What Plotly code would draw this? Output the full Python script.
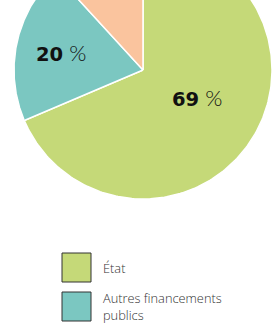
import numpy as np
import plotly.graph_objects as go

# ---- data ----
labels = ["État", "Autres financements publics", "Ressources propres"]
values = [68.6, 19.6, 11.8]
value_text = ["69", "20", "12"]
colors = ["#C5D978", "#7BC7C1", "#FAC49E"]

# ---- geometry of the (cropped) pie, in unit-circle data space ----
W, H = 273, 328
CX_PX, CY_PX, R_PX = 143, 70, 129
label_r = [0.47, 0.65, 0.6]
label_nudge = [-7.0, 0.0, 0.0]

fig = go.Figure()
total = sum(values)
start = 0.0  # clockwise angle from 12 o'clock, in degrees
for i, (lab, v, col) in enumerate(zip(labels, values, colors)):
    span = 360.0 * v / total
    a = np.radians(np.linspace(start, start + span, 240))
    xs = np.concatenate([[0.0], np.sin(a), [0.0]])
    ys = np.concatenate([[0.0], np.cos(a), [0.0]])
    fig.add_trace(go.Scatter(x=xs, y=ys, mode="lines", fill="toself",
                             fillcolor=col, line=dict(color="white", width=1.5),
                             name=lab, showlegend=False, hoverinfo="skip"))
    mid = np.radians(start + span / 2 + label_nudge[i])
    fig.add_annotation(
        x=label_r[i] * np.sin(mid), y=label_r[i] * np.cos(mid),
        text=(f"<b>{value_text[i]}</b> "
              "<span style='font-family:Lato;font-weight:300;font-size:22px'>%</span>"),
        showarrow=False,
        font=dict(family="DejaVu Sans", size=19.5, color="#111111"))
    start += span

# ---- manual legend (only the entries that fit in the visible frame) ----
box = 29
lx0, ly0, step = 62, 253, 39
for i, (lab, col) in enumerate(zip(labels, colors)):
    y0 = ly0 + i * step
    if y0 + box > H:
        continue
    fig.add_shape(type="rect", xref="paper", yref="paper",
                  x0=lx0 / W, x1=(lx0 + box) / W,
                  y0=1 - (y0 + box) / H, y1=1 - y0 / H,
                  fillcolor=col, line=dict(color="#333333", width=1))
    txt = lab
    if len(lab) > 20:
        parts = lab.split(" ")
        txt = " ".join(parts[:2]) + "<br>" + " ".join(parts[2:])
    fig.add_annotation(xref="paper", yref="paper", x=101 / W, y=1 - (y0 + box / 2) / H,
                       xanchor="left", yanchor="middle", align="left",
                       text=txt, showarrow=False,
                       font=dict(family="Open Sans", size=12.8, color="#333333", weight=300))

fig.update_layout(
    width=W, height=H, margin=dict(l=0, r=0, t=0, b=0),
    paper_bgcolor="white", plot_bgcolor="white",
    xaxis=dict(range=[(0 - CX_PX) / R_PX, (W - CX_PX) / R_PX], visible=False, fixedrange=True),
    yaxis=dict(range=[(CY_PX - H) / R_PX, CY_PX / R_PX], visible=False, fixedrange=True),
    showlegend=False,
)
fig.write_html("out.html", config={"displayModeBar": False},
               post_script="document.body.style.margin='0px';")
